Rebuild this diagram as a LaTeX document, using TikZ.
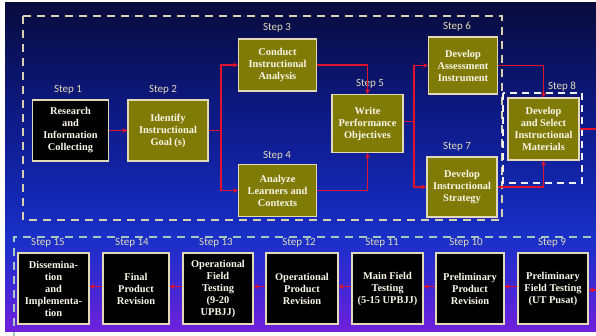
\documentclass[tikz,border=0pt]{standalone}
\usepackage{fontspec}
\setmainfont{Liberation Serif}
\newfontfamily\steplabelfont{Carlito}
\usetikzlibrary{arrows.meta}
\definecolor{bga}{HTML}{080B3C}
\definecolor{bgb}{HTML}{0E1A86}
\definecolor{bgc}{HTML}{1428B4}
\definecolor{bgd}{HTML}{1A30C8}
\definecolor{bge}{HTML}{3A28D4}
\definecolor{bgf}{HTML}{7020DC}
\pgfdeclareverticalshading{bgshade}{100bp}{color(0bp)=(bgf); color(25bp)=(bgf); color(32.5bp)=(bge); color(39bp)=(bgd); color(45bp)=(bgc); color(57.5bp)=(bgb); color(75bp)=(bga); color(100bp)=(bga)}
\definecolor{olivebox}{HTML}{7F7B06}
\definecolor{beige}{HTML}{E2DAB6}
\definecolor{boxtext}{HTML}{FAF6E8}
\definecolor{dashbeige}{HTML}{D8D0B0}
\definecolor{dashcyan}{HTML}{A8C8C2}
\definecolor{arrred}{HTML}{E0122E}
\tikzset{
  stepbox/.style={draw=beige, line width=1.1pt, fill=olivebox, text=boxtext,
    font=\bfseries\fontsize{10.4}{12}\selectfont, align=center, inner sep=0pt},
  blackbox/.style={stepbox, fill=black},
  steplabel/.style={text=beige, font=\steplabelfont\fontsize{11}{12}\selectfont, inner sep=0pt},
  arr/.style={draw=arrred, line width=1.9pt, -{Stealth[length=5pt,width=5pt]}},
  plainline/.style={draw=arrred, line width=1.9pt},
}
\begin{document}
\begin{tikzpicture}[x=1pt,y=-1pt]
\useasboundingbox (0,0) rectangle (596,335);
\fill[white] (0,0) rectangle (596,335);
\shade[shading=bgshade] (5,2) rectangle (596,331);

% dashed frames
\draw[dashbeige, line width=2.2pt, dash pattern=on 8pt off 6pt] (23,16) rectangle (502,220);
\draw[white!90!gray, line width=2pt, dash pattern=on 7pt off 5pt] (503,93) rectangle (582,183);
\draw[dashcyan, line width=2.2pt, dash pattern=on 8pt off 6pt] (14,340) -- (14,237) -- (600,237);

% top boxes
\node[blackbox, minimum width=76pt, minimum height=61pt] (s1) at (70.5,130.5) {Research\\and\\Information\\Collecting};
\node[stepbox, minimum width=80pt, minimum height=61pt] (s2) at (168,130.5) {Identify\\Instructional\\Goal (s)};
\node[stepbox, minimum width=78pt, minimum height=52pt] (s3) at (277.5,65) {Conduct\\Instructional\\Analysis};
\node[stepbox, minimum width=78pt, minimum height=52pt] (s4) at (277.5,190.5) {Analyze\\Learners and\\Contexts};
\node[stepbox, minimum width=71pt, minimum height=58pt] (s5) at (367.5,123.5) {Write\\Performance\\Objectives};
\node[stepbox, minimum width=69pt, minimum height=57pt] (s6) at (463,65.5) {Develop\\Assessment\\Instrument};
\node[stepbox, minimum width=70pt, minimum height=60pt] (s7) at (462,187) {Develop\\Instructional\\Strategy};
\node[stepbox, minimum width=71pt, minimum height=62pt] (s8) at (543.5,129) {Develop\\and Select\\Instructional\\Materials};

\node[steplabel] (l1) at (68,90) {Step 1};
\node[steplabel] (l2) at (163,90) {Step 2};
\node[steplabel] (l3) at (277,28) {Step 3};
\node[steplabel] (l4) at (277,156) {Step 4};
\node[steplabel] (l5) at (370,84) {Step 5};
\node[steplabel] (l6) at (457,27) {Step 6};
\node[steplabel] (l7) at (457,147) {Step 7};
\node[steplabel] (l8) at (562,87) {Step 8};

% bottom boxes
\node[blackbox, minimum width=71pt, minimum height=71pt] (s15) at (53.5,288.5) {Dissemina-\\tion\\and\\Implementa-\\tion};
\node[blackbox, minimum width=66pt, minimum height=71pt] (s14) at (136,288.5) {Final\\Product\\Revision};
\node[blackbox, minimum width=70pt, minimum height=71pt] (s13) at (218,288.5) {Operational\\Field\\Testing\\(9-20\\UPBJJ)};
\node[blackbox, minimum width=72pt, minimum height=71pt] (s12) at (302,288.5) {Operational\\Product\\Revision};
\node[blackbox, minimum width=71pt, minimum height=71pt] (s11) at (387.5,288.5) {Main Field\\Testing\\(5-15 UPBJJ)};
\node[blackbox, minimum width=68pt, minimum height=71pt] (s10) at (470,288.5) {Preliminary\\Product\\Revision};
\node[blackbox, minimum width=70pt, minimum height=71pt] (s9) at (553,288.5) {Preliminary\\Field Testing\\(UT Pusat)};

\node[steplabel] (l15) at (48,243) {Step 15};
\node[steplabel] (l14) at (132,243) {Step 14};
\node[steplabel] (l13) at (216,243) {Step 13};
\node[steplabel] (l12) at (299,243) {Step 12};
\node[steplabel] (l11) at (382,243) {Step 11};
\node[steplabel] (l10) at (466,243) {Step 10};
\node[steplabel] (l9) at (552,243) {Step 9};

% connectors top
\coordinate (j1) at (221,0);
\coordinate (j2) at (414,0);
\coordinate (out1) at (597,129);
\coordinate (in1) at (597,290);
\draw[arr] (s1) -- (s2);
\draw[arr] (s2.east) -- (s2.east -| j1) |- (s3.west);
\draw[arr] (s2.east) -- (s2.east -| j1) |- (s4.west);
\draw[arr] (s3.east) -| (s5.north);
\draw[arr] (s4.east) -| (s5.south);
\draw[arr] ([yshift=2pt]s5.east) -- ([yshift=2pt]s5.east -| j2) |- (s6.west);
\draw[arr] ([yshift=2pt]s5.east) -- ([yshift=2pt]s5.east -| j2) |- (s7.west);
\draw[arr] (s6.east) -| (s8.north);
\draw[arr] (s7.east) -| (s8.south);
\draw[plainline] (s8.east) -- (out1);

% connectors bottom
\draw[arr] (in1) -- (in1 -| s9.east);
\draw[arr] ([yshift=2pt]s9.west) -- ([yshift=2pt]s10.east);
\draw[arr] ([yshift=2pt]s10.west) -- ([yshift=2pt]s11.east);
\draw[arr] ([yshift=2pt]s11.west) -- ([yshift=2pt]s12.east);
\draw[arr] ([yshift=2pt]s12.west) -- ([yshift=2pt]s13.east);
\draw[arr] ([yshift=2pt]s13.west) -- ([yshift=2pt]s14.east);
\draw[arr] ([yshift=2pt]s14.west) -- ([yshift=2pt]s15.east);
\end{tikzpicture}
\end{document}
